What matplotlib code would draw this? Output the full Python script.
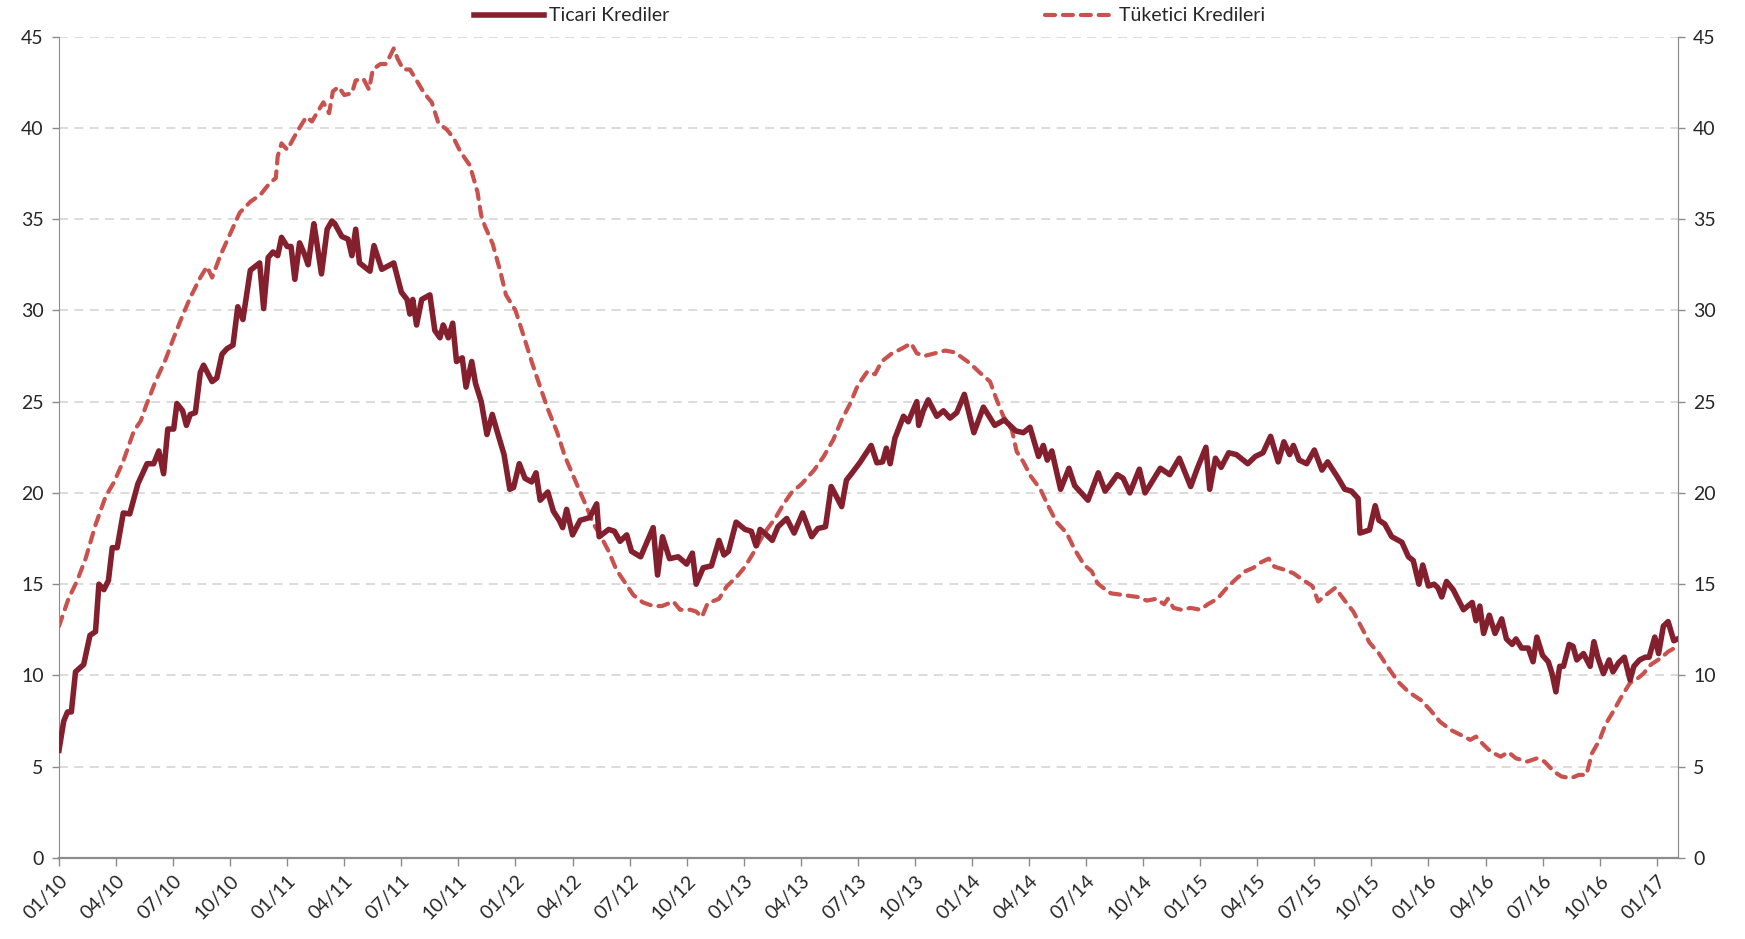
import matplotlib
matplotlib.use("Agg")
import matplotlib.pyplot as plt

# --- veriler: ay sayısı (01/2010 = 0) ve yıllık büyüme (%) ---
ticari_ay = [0.0, 0.25, 0.45, 0.65, 0.87, 1.3, 1.63, 1.92, 2.1, 2.36, 2.6, 2.8, 3.06, 3.38, 3.72,
             4.15, 4.63, 4.98, 5.25, 5.5, 5.72, 6.03, 6.2, 6.5, 6.7, 6.9, 7.17, 7.43, 7.6, 8.05,
             8.3, 8.57, 8.83, 9.15, 9.4, 9.67, 10.06, 10.55, 10.76, 11.0, 11.25, 11.5, 11.7, 12.0,
             12.2, 12.4, 12.65, 12.9, 13.1, 13.4, 13.55, 13.8, 14.1, 14.35, 14.5, 14.87, 15.2, 15.4,
             15.6, 15.8, 16.35, 16.56, 16.97, 17.6, 18.0, 18.3, 18.45, 18.6, 18.8, 19.07, 19.5,
             19.76, 20.03, 20.2, 20.47, 20.7, 20.9, 21.2, 21.4, 21.7, 21.9, 22.2, 22.5, 22.78, 23.0,
             23.4, 23.7, 23.9, 24.2, 24.5, 24.85, 25.08, 25.3, 25.7, 25.99, 26.3, 26.48, 26.69,
             27.0, 27.4, 27.9, 28.27, 28.4, 28.9, 29.2, 29.5, 29.85, 30.1, 30.58, 31.24, 31.47,
             31.73, 32.1, 32.56, 33.0, 33.3, 33.5, 33.87, 34.3, 34.7, 34.96, 35.2, 35.6, 36.07,
             36.4, 36.65, 36.86, 37.2, 37.5, 37.8, 38.26, 38.65, 39.1, 39.57, 39.9, 40.3, 40.6,
             41.15, 41.4, 41.7, 42.1, 42.7, 43.0, 43.3, 43.5, 43.7, 43.95, 44.4, 44.65, 45.1, 45.2,
             45.44, 45.7, 46.15, 46.5, 46.85, 47.2, 47.6, 48.1, 48.6, 49.2, 49.7, 50.3, 50.7,
             51.05, 51.5, 51.75, 51.96, 52.2, 52.66, 53.1, 53.4, 54.1, 54.64, 55.0, 55.3, 55.64,
             55.95, 56.3, 56.8, 57.1, 57.4, 57.9, 58.4, 58.9, 59.5, 59.85, 60.3, 60.5, 60.8, 61.1,
             61.5, 61.9, 62.5, 62.9, 63.3, 63.7, 64.1, 64.4, 64.7, 64.9, 65.2, 65.6, 66.0, 66.4,
             66.7, 67.2, 67.6, 67.95, 68.3, 68.4, 68.9, 69.2, 69.4, 69.7, 70.07, 70.6, 70.95, 71.2,
             71.5, 71.7, 72.0, 72.3, 72.5, 72.7, 72.95, 73.3, 73.84, 74.3, 74.5, 74.7, 74.9, 75.2,
             75.5, 75.85, 76.1, 76.4, 76.6, 76.9, 77.25, 77.5, 77.7, 78.0, 78.3, 78.5, 78.7, 78.9,
             79.1, 79.4, 79.6, 79.8, 80.15, 80.5, 80.7, 80.9, 81.2, 81.5, 81.7, 82.0, 82.3, 82.6,
             82.8, 83.1, 83.4, 83.6, 83.9, 84.1, 84.35, 84.6, 84.9, 85.1]
ticari = [5.9, 7.5, 8.0, 8.0, 10.2, 10.6, 12.2, 12.4, 15.0, 14.7, 15.2, 17.0, 17.0, 18.9, 18.85,
          20.5, 21.6, 21.6, 22.3, 21.05, 23.5, 23.5, 24.9, 24.5, 23.7, 24.3, 24.4, 26.6, 27.0, 26.1,
          26.3, 27.6, 27.9, 28.1, 30.2, 29.5, 32.2, 32.6, 30.1, 32.9, 33.2, 33.0, 34.0, 33.5,
          33.5, 31.7, 33.7, 33.1, 32.5, 34.75, 33.75, 32.0, 34.45, 34.9, 34.75, 34.05, 33.9, 33.0,
          34.45, 32.6, 32.15, 33.55, 32.25, 32.6, 31.0, 30.6, 29.8, 30.6, 29.2, 30.6, 30.85,
          28.9, 28.5, 29.2, 28.5, 29.3, 27.2, 27.4, 25.8, 27.2, 26.0, 25.0, 23.2, 24.3, 23.5,
          22.1, 20.2, 20.3, 21.6, 20.8, 20.6, 21.1, 19.6, 20.05, 19.0, 18.5, 18.1, 19.1,
          17.7, 18.5, 18.65, 19.4, 17.6, 18.0, 17.9, 17.35, 17.7, 16.8, 16.5, 18.1, 15.5,
          17.6, 16.4, 16.5, 16.1, 16.7, 15.0, 15.9, 16.0, 17.4, 16.6, 16.8, 18.4, 18.0,
          17.9, 17.1, 18.0, 17.7, 17.4, 18.15, 18.6, 17.8, 18.9, 17.6, 18.05, 18.15, 20.35,
          19.25, 20.7, 21.1, 21.65, 22.6, 21.65, 21.7, 22.45, 21.6, 23.0, 24.2, 23.9, 25.0, 23.7,
          24.5, 25.1, 24.2, 24.5, 24.1, 24.4, 25.4, 23.3, 24.7, 23.7, 24.0, 23.4, 23.3,
          23.6, 22.0, 22.6, 21.8, 22.3, 20.2, 21.35, 20.4, 19.6, 21.1, 20.1, 20.5, 21.0,
          20.8, 20.0, 21.3, 20.0, 20.5, 21.35, 21.0, 21.9, 20.35, 21.35, 22.5, 20.2, 21.9, 21.4,
          22.2, 22.1, 21.6, 22.0, 22.2, 23.1, 21.7, 22.8, 22.1, 22.6, 21.8, 21.6, 22.35, 21.25,
          21.7, 20.9, 20.2, 20.1, 19.7, 17.8, 17.97, 19.3, 18.5, 18.3, 17.6, 17.3, 16.5, 16.3,
          15.0, 16.05, 14.9, 15.0, 14.8, 14.3, 15.15, 14.7, 13.6, 14.0, 13.0, 13.8, 12.3, 13.3,
          12.3, 13.1, 12.0, 11.7, 12.0, 11.5, 11.5, 10.75, 12.1, 11.1, 10.75, 10.1, 9.1, 10.5,
          10.5, 11.7, 11.6, 10.85, 11.2, 10.5, 11.85, 11.0, 10.1, 10.85, 10.2, 10.7, 11.0, 9.75,
          10.5, 10.85, 11.0, 11.0, 12.1, 11.2, 12.7, 12.95, 11.9, 12.0]

tuketici_ay = [0.0, 0.5, 0.96, 1.4, 1.92, 2.45, 2.9, 3.4, 3.94, 4.3, 4.55, 5.07, 5.6, 6.03, 6.47,
               6.9, 7.43, 7.78, 8.05, 8.48, 9.0, 9.5, 10.06, 10.6, 11.1, 11.4, 11.5, 11.7, 12.0,
               12.5, 13.0, 13.3, 13.55, 13.9, 14.2, 14.4, 14.7, 15.0, 15.4, 15.6, 16.0, 16.3,
               16.5, 16.9, 17.2, 17.6, 17.8, 18.1, 18.45, 18.8, 19.2, 19.6, 19.95, 20.4, 20.77,
               21.1, 21.6, 22.0, 22.2, 22.4, 22.8, 23.2, 23.5, 24.0, 24.4, 24.85, 25.3, 25.7,
               26.2, 26.6, 27.05, 27.4, 27.75, 28.1, 28.45, 28.9, 29.3, 29.75, 30.2, 30.7, 31.25,
               31.7, 32.3, 32.65, 33.2, 33.5, 33.8, 34.1, 34.7, 35.1, 35.63, 36.07, 36.5, 36.86,
               37.2, 37.65, 38.1, 38.5, 39.05, 39.7, 40.2, 40.7, 41.15, 41.6, 42.0, 42.5, 42.9,
               43.25, 43.8, 44.3, 44.8, 45.1, 45.5, 46.05, 46.6, 47.1, 47.5, 47.9, 48.4, 48.95,
               49.3, 49.65, 50.1, 50.35, 50.7, 51.1, 51.6, 52.0, 52.45, 52.98, 53.4, 53.9, 54.3,
               54.6, 54.9, 55.3, 56.0, 56.7, 57.2, 57.7, 58.1, 58.3, 58.6, 59.0, 59.5, 60.0, 60.4,
               60.9, 61.4, 61.9, 62.35, 62.8, 63.2, 63.6, 63.9, 64.4, 64.9, 65.3, 65.9, 66.2, 66.6,
               67.1, 67.6, 68.05, 68.5, 68.9, 69.4, 69.9, 70.4, 70.95, 71.6, 72.1, 72.6, 73.2,
               73.7, 74.2, 74.5, 74.9, 75.3, 75.8, 76.2, 76.6, 77.2, 77.7, 78.1, 78.6, 79.0, 79.5,
               79.9, 80.3, 80.6, 81.0, 81.3, 81.7, 82.1, 82.6, 82.9, 83.3, 83.7, 84.2, 84.6, 85.1]
tuketici = [12.7, 14.2, 15.2, 16.4, 18.25, 19.8, 20.6, 21.8, 23.4, 23.95, 24.7, 26.1, 27.3, 28.5,
            29.65, 30.7, 31.8, 32.4, 31.8, 33.0, 34.2, 35.35, 35.95, 36.35, 37.0, 37.25, 38.45,
            39.15, 38.8, 39.75, 40.6, 40.35, 40.8, 41.4, 40.8, 42.0, 42.25, 41.8, 41.9, 42.6,
            42.7, 42.1, 43.2, 43.5, 43.5, 44.35, 43.8, 43.2, 43.2, 42.6, 41.9, 41.4, 40.25, 39.9,
            39.4, 38.7, 37.95, 36.5, 35.2, 34.6, 33.65, 32.15, 30.85, 30.0, 28.7, 27.2, 25.8,
            24.6, 23.3, 22.0, 20.9, 20.05, 19.2, 18.3, 17.7, 16.8, 15.8, 15.1, 14.4, 14.0, 13.8,
            13.8, 14.05, 13.6, 13.6, 13.5, 13.2, 13.95, 14.2, 14.87, 15.4, 15.96, 16.7, 17.4,
            17.97, 18.6, 19.4, 20.0, 20.5, 21.25, 21.99, 22.9, 24.0, 24.9, 25.9, 26.65, 26.5,
            27.2, 27.65, 27.9, 28.2, 27.65, 27.5, 27.65, 27.8, 27.7, 27.4, 27.1, 26.6, 26.1,
            25.1, 24.2, 23.45, 22.27, 21.7, 20.9, 20.2, 19.3, 18.4, 17.8, 16.9, 16.05, 15.7,
            15.05, 14.8, 14.5, 14.4, 14.3, 14.1, 14.2, 13.9, 14.2, 13.7, 13.6, 13.7, 13.6, 13.9,
            14.2, 14.8, 15.3, 15.7, 15.9, 16.2, 16.4, 15.96, 15.8, 15.6, 15.3, 14.9, 14.05, 14.4,
            14.8, 14.1, 13.5, 12.6, 11.8, 11.2, 10.4, 9.66, 9.1, 8.65, 8.1, 7.47, 7.0,
            6.74, 6.47, 6.65, 6.2, 5.8, 5.55, 5.8, 5.46, 5.28, 5.46, 5.28, 4.73, 4.46, 4.37,
            4.55, 4.55, 5.74, 6.47, 7.3, 8.0, 8.75, 9.6, 9.75, 10.1, 10.6, 10.94, 11.3, 11.6]

etiket_ay = list(range(0, 85, 3))
etiketler = ["01/10", "04/10", "07/10", "10/10", "01/11", "04/11", "07/11", "10/11",
             "01/12", "04/12", "07/12", "10/12", "01/13", "04/13", "07/13", "10/13",
             "01/14", "04/14", "07/14", "10/14", "01/15", "04/15", "07/15", "10/15",
             "01/16", "04/16", "07/16", "10/16", "01/17"]
y_ticks = [0, 5, 10, 15, 20, 25, 30, 35, 40, 45]

plt.rcParams['font.family'] = ['Lato', 'DejaVu Sans']
yazi_rengi = '#262626'
eksen_rengi = '#8C8C8C'
fs = 14

fig = plt.figure(figsize=(17.45, 9.39), dpi=100)
ax = fig.add_axes([0.0338, 0.0863, 0.9278, 0.8747])

ax.plot(ticari_ay, ticari, color='#84202E', lw=4.0, solid_joinstyle='round',
        label='Ticari Krediler', zorder=3)
ax.plot(tuketici_ay, tuketici, color='#C9514E', lw=3.0, linestyle=(0, (2.4, 1.9)),
        dash_capstyle='round', label='Tüketici Kredileri', zorder=2)

ax.set_xlim(0, 85.12)
ax.set_ylim(0, 45)
ax.set_yticks(y_ticks)
ax.set_xticks(etiket_ay)
ax.set_xticklabels(etiketler, rotation=45, ha='right', rotation_mode='anchor')
ax.yaxis.grid(True, color='#D9D9D9', linestyle=(0, (5, 3.5)), lw=1.3)
ax.set_axisbelow(True)

ax.spines['top'].set_visible(False)
ax.spines['left'].set_color(eksen_rengi)
ax.spines['right'].set_color(eksen_rengi)
ax.spines['bottom'].set_color(eksen_rengi)
ax.spines['bottom'].set_linewidth(1.6)
ax.tick_params(axis='x', length=6, width=1.0, color=eksen_rengi, labelsize=fs,
               labelcolor=yazi_rengi, pad=4)
ax.tick_params(axis='y', length=5, width=1.0, color=eksen_rengi, labelsize=fs,
               labelcolor=yazi_rengi, pad=6)

ax2 = ax.twinx()
ax2.set_ylim(0, 45)
ax2.set_yticks(y_ticks)
ax2.tick_params(axis='y', length=5, width=1.0, color=eksen_rengi, labelsize=fs,
                labelcolor=yazi_rengi, pad=6)
for s in ['top', 'left', 'bottom']:
    ax2.spines[s].set_visible(False)
ax2.spines['right'].set_color(eksen_rengi)

h, l = ax.get_legend_handles_labels()
fig.legend(h, l, loc='center', bbox_to_anchor=(0.4985, 0.983), ncol=2, frameon=False,
           fontsize=fs, handlelength=3.6, handletextpad=0.25, columnspacing=19.3,
           labelcolor=yazi_rengi)

fig.savefig('out.png', dpi=100, facecolor='white')
